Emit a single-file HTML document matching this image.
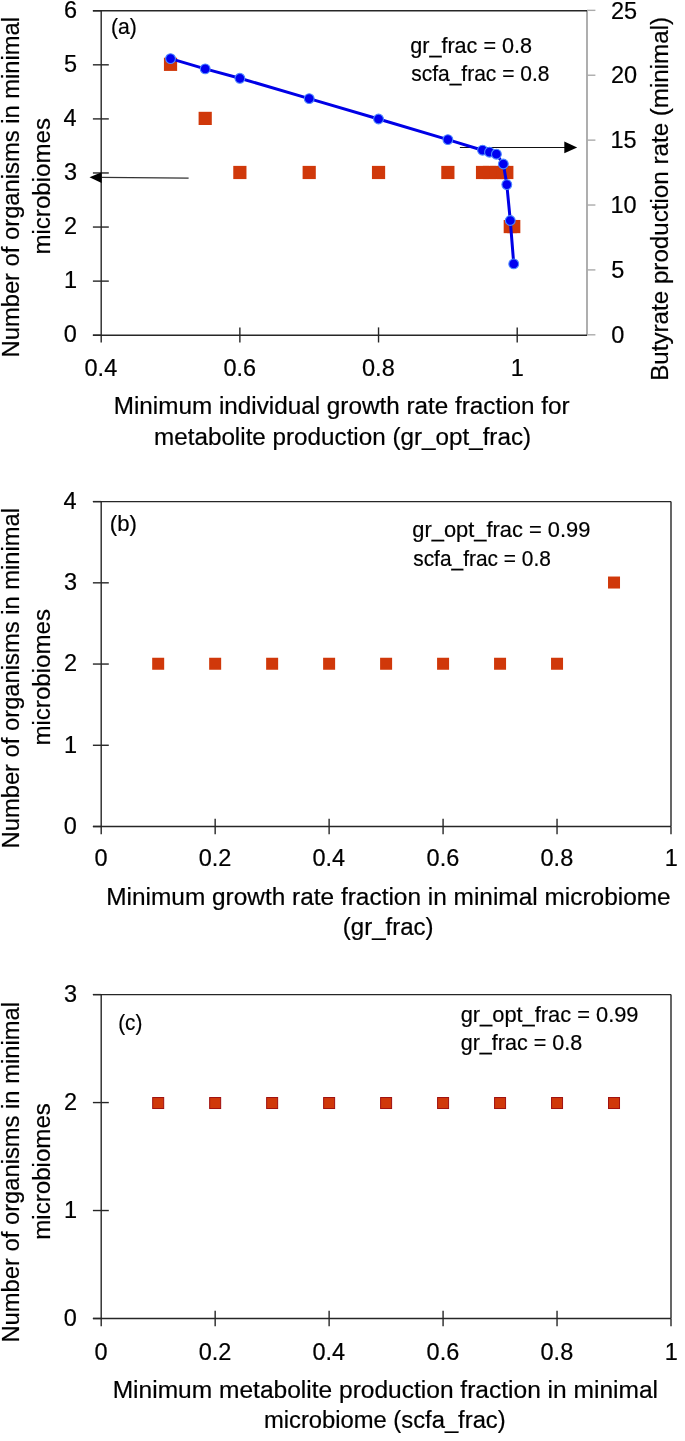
<!DOCTYPE html>
<html><head><meta charset="utf-8"><title>Minimal microbiome charts</title>
<style>
html,body{margin:0;padding:0;background:#fff;}
body{width:685px;height:1441px;overflow:hidden;}
svg{display:block;will-change:transform;}
svg text{font-family:"Liberation Sans",sans-serif;fill:#000;stroke:#000;stroke-width:0.2px;}
</style></head><body>
<svg width="685" height="1441" viewBox="0 0 685 1441">
<rect width="685" height="1441" fill="#fff"/>
<line x1="587.00" y1="10.75" x2="587.00" y2="335.20" stroke="#ababab" stroke-width="1.9"/>
<line x1="587.00" y1="334.80" x2="595.40" y2="334.80" stroke="#ababab" stroke-width="1.4"/>
<line x1="587.00" y1="269.91" x2="595.40" y2="269.91" stroke="#ababab" stroke-width="1.4"/>
<line x1="587.00" y1="205.02" x2="595.40" y2="205.02" stroke="#ababab" stroke-width="1.4"/>
<line x1="587.00" y1="140.13" x2="595.40" y2="140.13" stroke="#ababab" stroke-width="1.4"/>
<line x1="587.00" y1="75.24" x2="595.40" y2="75.24" stroke="#ababab" stroke-width="1.4"/>
<line x1="587.00" y1="10.35" x2="595.40" y2="10.35" stroke="#ababab" stroke-width="1.4"/>
<line x1="92.90" y1="10.75" x2="587.00" y2="10.75" stroke="#262626" stroke-width="1.4"/>
<line x1="101.20" y1="10.75" x2="101.20" y2="335.20" stroke="#262626" stroke-width="1.4"/>
<line x1="92.90" y1="335.20" x2="101.20" y2="335.20" stroke="#262626" stroke-width="1.4"/>
<line x1="92.90" y1="281.12" x2="108.80" y2="281.12" stroke="#262626" stroke-width="1.4"/>
<line x1="92.90" y1="227.05" x2="108.80" y2="227.05" stroke="#262626" stroke-width="1.4"/>
<line x1="92.90" y1="172.97" x2="108.80" y2="172.97" stroke="#262626" stroke-width="1.4"/>
<line x1="92.90" y1="118.90" x2="108.80" y2="118.90" stroke="#262626" stroke-width="1.4"/>
<line x1="92.90" y1="64.82" x2="108.80" y2="64.82" stroke="#262626" stroke-width="1.4"/>
<line x1="92.90" y1="10.75" x2="101.20" y2="10.75" stroke="#262626" stroke-width="1.4"/>
<line x1="92.90" y1="335.20" x2="587.00" y2="335.20" stroke="#262626" stroke-width="1.4"/>
<line x1="101.20" y1="335.20" x2="101.20" y2="342.50" stroke="#262626" stroke-width="1.4"/>
<line x1="239.87" y1="327.40" x2="239.87" y2="342.50" stroke="#262626" stroke-width="1.4"/>
<line x1="378.54" y1="327.40" x2="378.54" y2="342.50" stroke="#262626" stroke-width="1.4"/>
<line x1="517.21" y1="327.40" x2="517.21" y2="342.50" stroke="#262626" stroke-width="1.4"/>
<text x="63.85" y="342.49" font-size="23.5">0</text>
<text x="64.08" y="288.41" font-size="23.5">1</text>
<text x="64.11" y="234.34" font-size="23.5">2</text>
<text x="63.96" y="180.26" font-size="23.5">3</text>
<text x="63.62" y="126.19" font-size="23.5">4</text>
<text x="63.92" y="72.11" font-size="23.5">5</text>
<text x="63.96" y="18.04" font-size="23.5">6</text>
<text x="611.28" y="342.99" font-size="23.5">0</text>
<text x="611.26" y="278.10" font-size="23.5">5</text>
<text x="610.41" y="213.21" font-size="23.5">10</text>
<text x="610.41" y="148.32" font-size="23.5">15</text>
<text x="611.02" y="83.43" font-size="23.5">20</text>
<text x="611.02" y="18.54" font-size="23.5">25</text>
<text x="84.55" y="375.50" font-size="23.5">0.4</text>
<text x="223.39" y="375.50" font-size="23.5">0.6</text>
<text x="362.06" y="375.50" font-size="23.5">0.8</text>
<text x="510.85" y="375.50" font-size="23.5">1</text>
<path d="M188.6,178.1 L101,177.3" stroke="#333" stroke-width="1.25" fill="none"/>
<path d="M89.5,177.3 L101.6,172.3 L101.6,183.1 Z" fill="#000"/>
<path d="M459.9,147.5 L566,147.5" stroke="#111" stroke-width="1.2" fill="none"/>
<path d="M577.2,147.4 L564.3,141.5 L564.3,153.2 Z" fill="#000"/>
<rect x="163.93" y="57.72" width="13.2" height="13.2" fill="#d0380a"/>
<rect x="198.60" y="111.80" width="13.2" height="13.2" fill="#d0380a"/>
<rect x="233.27" y="165.88" width="13.2" height="13.2" fill="#d0380a"/>
<rect x="302.60" y="165.88" width="13.2" height="13.2" fill="#d0380a"/>
<rect x="371.94" y="165.88" width="13.2" height="13.2" fill="#d0380a"/>
<rect x="441.27" y="165.88" width="13.2" height="13.2" fill="#d0380a"/>
<rect x="475.94" y="165.88" width="13.2" height="13.2" fill="#d0380a"/>
<rect x="482.88" y="165.88" width="13.2" height="13.2" fill="#d0380a"/>
<rect x="489.81" y="165.88" width="13.2" height="13.2" fill="#d0380a"/>
<rect x="496.74" y="165.88" width="13.2" height="13.2" fill="#d0380a"/>
<rect x="500.21" y="165.88" width="13.2" height="13.2" fill="#d0380a"/>
<rect x="503.68" y="219.95" width="13.2" height="13.2" fill="#d0380a"/>
<rect x="507.14" y="219.95" width="13.2" height="13.2" fill="#d0380a"/>
<polyline points="170.53,58.60 205.20,68.90 239.87,78.30 309.20,98.60 378.54,119.00 447.87,139.60 482.54,150.20 489.48,152.20 496.41,154.20 503.34,164.00 506.81,184.60 510.28,220.50 513.74,263.90" fill="none" stroke="#0000e6" stroke-width="3" stroke-linejoin="round"/>
<circle cx="170.53" cy="58.60" r="4.9" fill="#0000f0" stroke="#4d88ff" stroke-width="1.1"/>
<circle cx="205.20" cy="68.90" r="4.9" fill="#0000f0" stroke="#4d88ff" stroke-width="1.1"/>
<circle cx="239.87" cy="78.30" r="4.9" fill="#0000f0" stroke="#4d88ff" stroke-width="1.1"/>
<circle cx="309.20" cy="98.60" r="4.9" fill="#0000f0" stroke="#4d88ff" stroke-width="1.1"/>
<circle cx="378.54" cy="119.00" r="4.9" fill="#0000f0" stroke="#4d88ff" stroke-width="1.1"/>
<circle cx="447.87" cy="139.60" r="4.9" fill="#0000f0" stroke="#4d88ff" stroke-width="1.1"/>
<circle cx="482.54" cy="150.20" r="4.9" fill="#0000f0" stroke="#4d88ff" stroke-width="1.1"/>
<circle cx="489.48" cy="152.20" r="4.9" fill="#0000f0" stroke="#4d88ff" stroke-width="1.1"/>
<circle cx="496.41" cy="154.20" r="4.9" fill="#0000f0" stroke="#4d88ff" stroke-width="1.1"/>
<circle cx="503.34" cy="164.00" r="4.9" fill="#0000f0" stroke="#4d88ff" stroke-width="1.1"/>
<circle cx="506.81" cy="184.60" r="4.9" fill="#0000f0" stroke="#4d88ff" stroke-width="1.1"/>
<circle cx="510.28" cy="220.50" r="4.9" fill="#0000f0" stroke="#4d88ff" stroke-width="1.1"/>
<circle cx="513.74" cy="263.90" r="4.9" fill="#0000f0" stroke="#4d88ff" stroke-width="1.1"/>
<text x="111.09" y="34.10" font-size="21.6" textLength="25.82" lengthAdjust="spacingAndGlyphs">(a)</text>
<text x="410.19" y="53.00" font-size="21.6" textLength="121.85" lengthAdjust="spacingAndGlyphs">gr_frac = 0.8</text>
<text x="411.22" y="81.40" font-size="21.6" textLength="138.20" lengthAdjust="spacingAndGlyphs">scfa_frac = 0.8</text>
<text transform="translate(19.10,357.45) rotate(-90)" x="0" y="0" font-size="23.3" textLength="340.54" lengthAdjust="spacingAndGlyphs">Number of organisms in minimal</text>
<text transform="translate(50.00,254.60) rotate(-90)" x="0" y="0" font-size="23.3" textLength="136.57" lengthAdjust="spacingAndGlyphs">microbiomes</text>
<text transform="translate(667.50,380.78) rotate(-90)" x="0" y="0" font-size="23.3" textLength="363.88" lengthAdjust="spacingAndGlyphs">Butyrate production rate (minimal)</text>
<text x="113.71" y="413.60" font-size="23.3" textLength="455.99" lengthAdjust="spacingAndGlyphs">Minimum individual growth rate fraction for</text>
<text x="154.09" y="444.70" font-size="23.3" textLength="377.01" lengthAdjust="spacingAndGlyphs">metabolite production (gr_opt_frac)</text>
<line x1="92.90" y1="501.60" x2="671.00" y2="501.60" stroke="#262626" stroke-width="1.4"/>
<line x1="671.00" y1="501.60" x2="671.00" y2="826.50" stroke="#262626" stroke-width="1.4"/>
<line x1="101.20" y1="501.60" x2="101.20" y2="826.50" stroke="#262626" stroke-width="1.4"/>
<line x1="92.90" y1="826.50" x2="101.20" y2="826.50" stroke="#262626" stroke-width="1.4"/>
<line x1="92.90" y1="745.27" x2="108.80" y2="745.27" stroke="#262626" stroke-width="1.4"/>
<line x1="92.90" y1="664.05" x2="108.80" y2="664.05" stroke="#262626" stroke-width="1.4"/>
<line x1="92.90" y1="582.83" x2="108.80" y2="582.83" stroke="#262626" stroke-width="1.4"/>
<line x1="92.90" y1="501.60" x2="101.20" y2="501.60" stroke="#262626" stroke-width="1.4"/>
<line x1="92.90" y1="826.50" x2="671.00" y2="826.50" stroke="#262626" stroke-width="1.4"/>
<line x1="101.20" y1="826.50" x2="101.20" y2="834.30" stroke="#262626" stroke-width="1.4"/>
<line x1="215.16" y1="818.70" x2="215.16" y2="834.30" stroke="#262626" stroke-width="1.4"/>
<line x1="329.12" y1="818.70" x2="329.12" y2="834.30" stroke="#262626" stroke-width="1.4"/>
<line x1="443.08" y1="818.70" x2="443.08" y2="834.30" stroke="#262626" stroke-width="1.4"/>
<line x1="557.04" y1="818.70" x2="557.04" y2="834.30" stroke="#262626" stroke-width="1.4"/>
<line x1="671.00" y1="826.50" x2="671.00" y2="834.30" stroke="#262626" stroke-width="1.4"/>
<text x="63.85" y="833.79" font-size="23.5">0</text>
<text x="64.08" y="752.56" font-size="23.5">1</text>
<text x="64.11" y="671.34" font-size="23.5">2</text>
<text x="63.96" y="590.11" font-size="23.5">3</text>
<text x="63.62" y="508.89" font-size="23.5">4</text>
<text x="94.47" y="866.30" font-size="23.5">0</text>
<text x="198.76" y="866.30" font-size="23.5">0.2</text>
<text x="312.47" y="866.30" font-size="23.5">0.4</text>
<text x="426.60" y="866.30" font-size="23.5">0.6</text>
<text x="540.56" y="866.30" font-size="23.5">0.8</text>
<text x="664.64" y="866.30" font-size="23.5">1</text>
<rect x="152.18" y="657.75" width="12.0" height="12.0" fill="#d0380a"/>
<rect x="209.16" y="657.75" width="12.0" height="12.0" fill="#d0380a"/>
<rect x="266.14" y="657.75" width="12.0" height="12.0" fill="#d0380a"/>
<rect x="323.12" y="657.75" width="12.0" height="12.0" fill="#d0380a"/>
<rect x="380.10" y="657.75" width="12.0" height="12.0" fill="#d0380a"/>
<rect x="437.08" y="657.75" width="12.0" height="12.0" fill="#d0380a"/>
<rect x="494.06" y="657.75" width="12.0" height="12.0" fill="#d0380a"/>
<rect x="551.04" y="657.75" width="12.0" height="12.0" fill="#d0380a"/>
<rect x="608.02" y="576.53" width="12.0" height="12.0" fill="#d0380a"/>
<text x="109.83" y="531.30" font-size="21.6" textLength="27.04" lengthAdjust="spacingAndGlyphs">(b)</text>
<text x="412.38" y="536.70" font-size="21.6" textLength="177.95" lengthAdjust="spacingAndGlyphs">gr_opt_frac = 0.99</text>
<text x="413.22" y="565.60" font-size="21.6" textLength="137.59" lengthAdjust="spacingAndGlyphs">scfa_frac = 0.8</text>
<text transform="translate(19.10,848.45) rotate(-90)" x="0" y="0" font-size="23.3" textLength="340.54" lengthAdjust="spacingAndGlyphs">Number of organisms in minimal</text>
<text transform="translate(50.00,745.60) rotate(-90)" x="0" y="0" font-size="23.3" textLength="136.57" lengthAdjust="spacingAndGlyphs">microbiomes</text>
<text x="106.20" y="904.50" font-size="23.3" textLength="564.49" lengthAdjust="spacingAndGlyphs">Minimum growth rate fraction in minimal microbiome</text>
<text x="342.81" y="935.30" font-size="23.3" textLength="90.68" lengthAdjust="spacingAndGlyphs">(gr_frac)</text>
<line x1="92.90" y1="994.60" x2="671.00" y2="994.60" stroke="#262626" stroke-width="1.4"/>
<line x1="671.00" y1="994.60" x2="671.00" y2="1318.50" stroke="#262626" stroke-width="1.4"/>
<line x1="101.20" y1="994.60" x2="101.20" y2="1318.50" stroke="#262626" stroke-width="1.4"/>
<line x1="92.90" y1="1318.50" x2="101.20" y2="1318.50" stroke="#262626" stroke-width="1.4"/>
<line x1="92.90" y1="1210.53" x2="108.80" y2="1210.53" stroke="#262626" stroke-width="1.4"/>
<line x1="92.90" y1="1102.57" x2="108.80" y2="1102.57" stroke="#262626" stroke-width="1.4"/>
<line x1="92.90" y1="994.60" x2="101.20" y2="994.60" stroke="#262626" stroke-width="1.4"/>
<line x1="92.90" y1="1318.50" x2="671.00" y2="1318.50" stroke="#262626" stroke-width="1.4"/>
<line x1="101.20" y1="1318.50" x2="101.20" y2="1326.30" stroke="#262626" stroke-width="1.4"/>
<line x1="215.16" y1="1310.70" x2="215.16" y2="1326.30" stroke="#262626" stroke-width="1.4"/>
<line x1="329.12" y1="1310.70" x2="329.12" y2="1326.30" stroke="#262626" stroke-width="1.4"/>
<line x1="443.08" y1="1310.70" x2="443.08" y2="1326.30" stroke="#262626" stroke-width="1.4"/>
<line x1="557.04" y1="1310.70" x2="557.04" y2="1326.30" stroke="#262626" stroke-width="1.4"/>
<line x1="671.00" y1="1318.50" x2="671.00" y2="1326.30" stroke="#262626" stroke-width="1.4"/>
<text x="63.85" y="1325.79" font-size="23.5">0</text>
<text x="64.08" y="1217.82" font-size="23.5">1</text>
<text x="64.11" y="1109.86" font-size="23.5">2</text>
<text x="63.96" y="1001.89" font-size="23.5">3</text>
<text x="94.47" y="1359.50" font-size="23.5">0</text>
<text x="198.76" y="1359.50" font-size="23.5">0.2</text>
<text x="312.47" y="1359.50" font-size="23.5">0.4</text>
<text x="426.60" y="1359.50" font-size="23.5">0.6</text>
<text x="540.56" y="1359.50" font-size="23.5">0.8</text>
<text x="664.64" y="1359.50" font-size="23.5">1</text>
<rect x="152.68" y="1097.52" width="11.0" height="11.0" fill="#d0380a" stroke="#a01010" stroke-width="1"/>
<rect x="209.66" y="1097.52" width="11.0" height="11.0" fill="#d0380a" stroke="#a01010" stroke-width="1"/>
<rect x="266.64" y="1097.52" width="11.0" height="11.0" fill="#d0380a" stroke="#a01010" stroke-width="1"/>
<rect x="323.62" y="1097.52" width="11.0" height="11.0" fill="#d0380a" stroke="#a01010" stroke-width="1"/>
<rect x="380.60" y="1097.52" width="11.0" height="11.0" fill="#d0380a" stroke="#a01010" stroke-width="1"/>
<rect x="437.58" y="1097.52" width="11.0" height="11.0" fill="#d0380a" stroke="#a01010" stroke-width="1"/>
<rect x="494.56" y="1097.52" width="11.0" height="11.0" fill="#d0380a" stroke="#a01010" stroke-width="1"/>
<rect x="551.54" y="1097.52" width="11.0" height="11.0" fill="#d0380a" stroke="#a01010" stroke-width="1"/>
<rect x="608.52" y="1097.52" width="11.0" height="11.0" fill="#d0380a" stroke="#a01010" stroke-width="1"/>
<text x="118.21" y="1029.50" font-size="21.6" textLength="24.17" lengthAdjust="spacingAndGlyphs">(c)</text>
<text x="460.68" y="1022.00" font-size="21.6" textLength="177.85" lengthAdjust="spacingAndGlyphs">gr_opt_frac = 0.99</text>
<text x="460.70" y="1050.00" font-size="21.6" textLength="121.54" lengthAdjust="spacingAndGlyphs">gr_frac = 0.8</text>
<text transform="translate(19.10,1342.55) rotate(-90)" x="0" y="0" font-size="23.3" textLength="340.54" lengthAdjust="spacingAndGlyphs">Number of organisms in minimal</text>
<text transform="translate(50.00,1239.70) rotate(-90)" x="0" y="0" font-size="23.3" textLength="136.57" lengthAdjust="spacingAndGlyphs">microbiomes</text>
<text x="112.69" y="1397.80" font-size="23.3" textLength="545.35" lengthAdjust="spacingAndGlyphs">Minimum metabolite production fraction in minimal</text>
<text x="263.92" y="1428.30" font-size="23.3" textLength="241.75" lengthAdjust="spacingAndGlyphs">microbiome (scfa_frac)</text>
</svg>
</body></html>
